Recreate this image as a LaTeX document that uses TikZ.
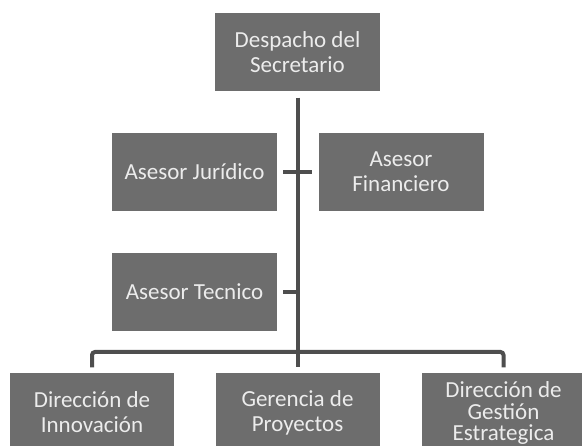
\documentclass[tikz,border=0pt]{standalone}
\usepackage{fontspec}
\setmainfont{Carlito}
\definecolor{box-grey}{HTML}{6d6d6d}
\definecolor{line-grey}{HTML}{4e4e4e}
\definecolor{label-white}{HTML}{ececec}

\begin{document}
\begin{tikzpicture}[
    x=1pt, y=1pt,
    unit/.style={
        fill=box-grey, text=label-white,
        minimum width=165pt, minimum height=78pt,
        align=center, inner sep=0pt,
        font=\fontsize{23}{25}\selectfont,
    },
    link/.style={ draw=line-grey, line width=4pt, },
    gap/.style={ shorten <=6pt, shorten >=6pt, },
]

\clip (0,0) rectangle (582,446);

\node[unit] (despacho) at (297.5,393.5) {Despacho del\\Secretario};
\node[unit] (juridico) at (194.5,274) {Asesor Jurídico};
\node[unit] (financiero) at (401,274) {Asesor\\Financiero};
\node[unit] (tecnico) at (194.5,154) {Asesor Tecnico};

\node[unit, minimum width=164pt] (innovacion) at (92,33.5) {Dirección de\\Innovación};
\node[unit, minimum width=164pt] (proyectos) at (297.5,33.5) {Gerencia de\\Proyectos};
\node[unit, minimum width=164pt, font=\fontsize{23}{22}\selectfont]
    (gestion) at (503.5,33.5) {Dirección de\\Gestión\\[-1pt]Estrategica};

\coordinate (bus) at (297.5,94);

\draw[link, gap] (despacho.south) -- (proyectos.north);
\draw[link, gap] (juridico) -- (financiero);
\draw[link, shorten <=6pt] (tecnico.east) -- (tecnico.east -| despacho.south);
\draw[link, rounded corners=3pt]
    ([yshift=6pt]innovacion.north) |- (bus) -| ([yshift=6pt]gestion.north);
\end{tikzpicture}
\end{document}
